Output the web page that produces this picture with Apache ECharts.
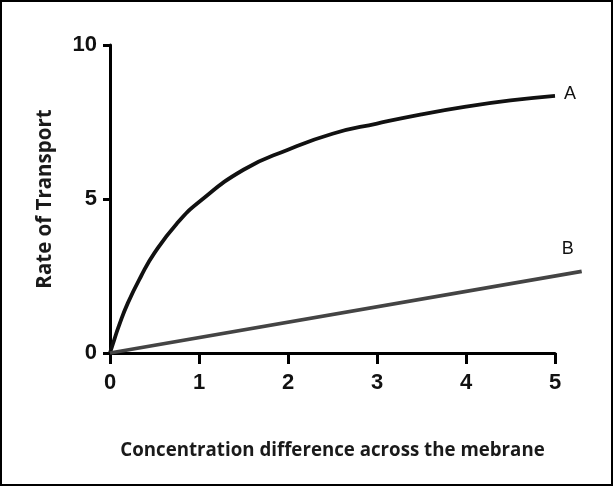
<!DOCTYPE html>
<html><head><meta charset="utf-8">
<script src="https://cdn.jsdelivr.net/npm/echarts@6/dist/echarts.min.js"></script>
<style>html,body{margin:0;padding:0;background:#fff}#c{width:613px;height:486px;box-sizing:border-box;border:2px solid #000}</style>
</head><body><div id="c"></div>
<script>
const xTicks = [0, 1, 2, 3, 4, 5];
const yTicks = [0, 5, 10];
const curveAx = [0, 0.05, 0.1, 0.2, 0.35, 0.5, 0.75, 1, 1.5, 2, 2.5, 3, 3.5, 4, 4.5, 5];
const curveAy = [0, 0.45, 0.88, 1.62, 2.5, 3.25, 4.2, 4.9, 5.95, 6.6, 7.12, 7.45, 7.75, 8.0, 8.2, 8.35];
const lineBx = [0, 5.3];
const lineBy = [0, 2.65];
const seriesNames = ['A', 'B'];
const xName = 'Concentration difference across the mebrane';
const yName = 'Rate of Transport';

const chart = echarts.init(document.getElementById('c'), null, {renderer: 'canvas'});
const axisFont = {fontFamily: 'Liberation Sans, Arial', fontWeight: 'bold', fontSize: 22, color: '#111'};
const G = {left: 108, top: 43, bottom: 131, width: 445};
const xMax = xTicks[xTicks.length - 1];
const xMax2 = lineBx[lineBx.length - 1];
chart.setOption({
  animation: false,
  grid: [
    {left: G.left, width: G.width, top: G.top, bottom: G.bottom, containLabel: false},
    {left: G.left, width: G.width * xMax2 / xMax, top: G.top, bottom: G.bottom, containLabel: false}
  ],
  xAxis: [{
    gridIndex: 0, type: 'value', min: 0, max: xMax, interval: 1,
    name: xName, nameLocation: 'middle', nameGap: 88,
    nameTextStyle: {fontFamily: 'Open Sans', fontWeight: 'bold', fontSize: 18.7, color: '#1a1a1a'},
    axisLine: {show: true, onZero: false, lineStyle: {color: '#000', width: 3}},
    axisTick: {show: true, length: 11, lineStyle: {color: '#000', width: 3}},
    axisLabel: Object.assign({margin: 19}, axisFont),
    splitLine: {show: false}
  }, {
    gridIndex: 1, type: 'value', min: 0, max: xMax2, show: false
  }],
  yAxis: [{
    gridIndex: 0, type: 'value', min: 0, max: 10, interval: 5,
    name: yName, nameLocation: 'middle', nameGap: 54,
    nameTextStyle: {fontFamily: 'Open Sans', fontWeight: 'bold', fontSize: 20.5, color: '#1a1a1a'},
    axisLine: {show: true, onZero: false, lineStyle: {color: '#000', width: 3}},
    axisTick: {show: true, length: 7, lineStyle: {color: '#000', width: 3}},
    axisLabel: Object.assign({margin: 13}, axisFont),
    splitLine: {show: false}
  }, {
    gridIndex: 1, type: 'value', min: 0, max: 10, show: false
  }],
  series: [
    {
      name: seriesNames[0], type: 'line', xAxisIndex: 0, yAxisIndex: 0,
      smooth: 0.5, showSymbol: false, clip: false,
      data: curveAx.map((x, i) => [x, curveAy[i]]),
      lineStyle: {color: '#111', width: 3.8},
      endLabel: {show: true, formatter: seriesNames[0], offset: [1, -2], fontFamily: 'Liberation Sans, Arial', fontSize: 18, color: '#111'}
    },
    {
      name: seriesNames[1], type: 'line', xAxisIndex: 1, yAxisIndex: 1,
      showSymbol: false, clip: false,
      data: lineBx.map((x, i) => [x, lineBy[i]]),
      lineStyle: {color: '#444', width: 3.8},
      endLabel: {show: true, formatter: seriesNames[1], offset: [-28, -22], fontFamily: 'Liberation Sans, Arial', fontSize: 18, color: '#111'}
    }
  ]
});
</script></body></html>
